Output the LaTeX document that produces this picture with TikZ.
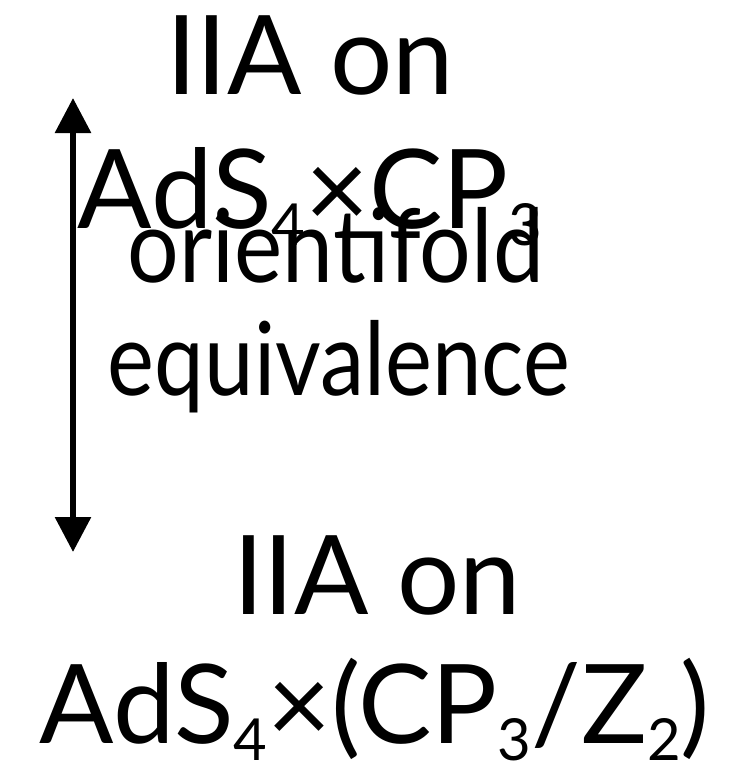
\documentclass[tikz,border=0pt]{standalone}
\usepackage{fontspec}
\setmainfont{Lato}
\usetikzlibrary{arrows.meta}
\newcommand{\sbs}[1]{\raisebox{-0.16em}{\fontsize{58}{58}\selectfont #1}}
\tikzset{
  big/.style={inner sep=0pt, font=\fontsize{110}{120}\selectfont},
  low/.style={inner sep=0pt, font=\fontsize{102}{110}\selectfont},
  arr/.style={line width=6pt, {Triangle[length=35pt,width=35pt]}-{Triangle[length=35pt,width=35pt]}}
}
\begin{document}
\begin{tikzpicture}[x=1pt,y=-1pt]
\useasboundingbox (0,0) rectangle (742,773);
\node[big, anchor=base] (t1) at (310,95) {IIA on};
\node[big, anchor=base] (t2) at (310,228) {AdS\sbs{4}×CP\sbs{3}};
\node[low, anchor=base] (o1) at (336,282) {\resizebox{416pt}{\height}{orientifold}};
\node[low, anchor=base] (o2) at (339,395) {\resizebox{462pt}{\height}{equivalence}};
\node[big, anchor=base] (b1) at (377,614) {IIA on};
\node[big, anchor=base] (b2) at (375,743) {AdS\sbs{4}×(CP\sbs{3}/Z\sbs{2})};
\coordinate (top) at (73,98);
\coordinate (bot) at (73,552);
\draw[arr] (bot) -- (top);
\end{tikzpicture}
\end{document}
